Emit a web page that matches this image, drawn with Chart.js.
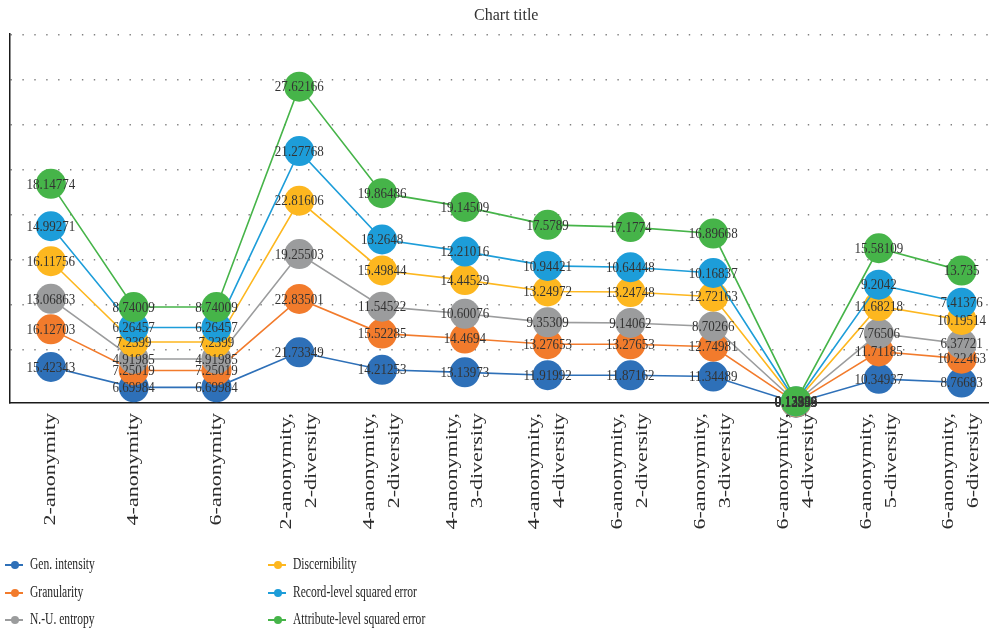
<!DOCTYPE html>
<html>
<head>
<meta charset="utf-8">
<script src="https://cdn.jsdelivr.net/npm/chart.js@4.4.1/dist/chart.umd.min.js"></script>
<style>
  html, body { margin: 0; padding: 0; background: #fff; overflow: hidden; }
  #wrap { position: relative; width: 989px; height: 633px; overflow: hidden; }
  #chart { position: absolute; left: 0; top: 0; }
  .lg-item { position: absolute; height: 20px; line-height: 20px; white-space: nowrap;
             font-family: "Liberation Serif", "Times New Roman", serif; font-size: 17px; color: #262626; }
  .lg-mark { position: absolute; left: 0; top: 10px; width: 18px; height: 2px; }
  .lg-dot { position: absolute; left: 5.5px; top: -3px; width: 8px; height: 8px; border-radius: 50%; }
  .lg-text { position: absolute; top: 0; transform: scaleX(0.68); transform-origin: 0 50%; }
</style>
</head>
<body>
<div id="wrap">
  <canvas id="chart" width="1012" height="633"></canvas>
  <div id="legend"></div>
</div>
<script>
// Configurations along the x axis (each entry is one label, split into lines)
const categories = [
  ['2-anonymity'], ['4-anonymity'], ['6-anonymity'],
  ['2-anonymity,', '2-diversity'], ['4-anonymity,', '2-diversity'],
  ['4-anonymity,', '3-diversity'], ['4-anonymity,', '4-diversity'],
  ['6-anonymity,', '2-diversity'], ['6-anonymity,', '3-diversity'],
  ['6-anonymity,', '4-diversity'], ['6-anonymity,', '5-diversity'],
  ['6-anonymity,', '6-diversity']
];

// Metric values per configuration
const genIntensity   = [15.42343, 6.69984, 6.69984, 21.73349, 14.21253, 13.13973, 11.91992, 11.87162, 11.34489, 0.13333, 10.34937, 8.76683];
const granularity    = [16.12703, 7.25019, 7.25019, 22.83501, 15.52285, 14.4694, 13.27653, 13.27653, 12.74981, 0.12963, 11.71185, 10.22463];
const nuEntropy      = [13.06863, 4.91985, 4.91985, 19.25503, 11.54522, 10.60076, 9.35309, 9.14062, 8.70266, 0.13889, 7.76506, 6.37721];
const discernibility = [16.11756, 7.2399, 7.2399, 22.81606, 15.49844, 14.44529, 13.24972, 13.24748, 12.72163, 0.13296, 11.68218, 10.19514];
const recordSqError  = [14.99271, 6.26457, 6.26457, 21.27768, 13.2648, 12.21016, 10.94421, 10.64448, 10.16837, 0.12346, 9.2042, 7.41376];
const attrSqError    = [18.14774, 8.74009, 8.74009, 27.62166, 19.86486, 19.14509, 17.5789, 17.1774, 16.89668, 0.13194, 15.58109, 13.735];

const seriesNames  = ['Gen. intensity', 'Granularity', 'N.-U. entropy', 'Discernibility', 'Record-level squared error', 'Attribute-level squared error'];
const seriesData   = [genIntensity, granularity, nuEntropy, discernibility, recordSqError, attrSqError];
const seriesColors = ['#2E70B8', '#F27B2C', '#9B9C9D', '#FDB71F', '#1D9DD9', '#46B449'];

// Value axis range and spacing of the dotted guide lines
const yMax = 158;
const yGridStep = 19.28;

const FONT = '"Liberation Serif", "Times New Roman", serif';

// Draw datasets first-to-last so the upper series sit on top
const forwardOrder = {
  id: 'forwardOrder',
  beforeDatasetsDraw(chart) {
    chart.getSortedVisibleDatasetMetas().forEach(m => chart._drawDataset(m));
    return false;
  }
};

// Value printed in the middle of every marker
const valueLabels = {
  id: 'valueLabels',
  afterDraw(chart) {
    const ctx = chart.ctx;
    ctx.save();
    ctx.font = '14px ' + FONT;
    ctx.fillStyle = '#333333';
    ctx.textAlign = 'center';
    ctx.textBaseline = 'middle';
    chart.data.datasets.forEach((ds, di) => {
      const meta = chart.getDatasetMeta(di);
      meta.data.forEach((pt, i) => {
        ctx.save();
        ctx.translate(pt.x, pt.y + 1);
        ctx.scale(0.93, 1);
        ctx.fillText(String(ds.data[i]), 0, 0);
        ctx.restore();
      });
    });
    ctx.restore();
  }
};

// Vertical category labels under the axis
const categoryLabels = {
  id: 'categoryLabels',
  afterDraw(chart) {
    const ctx = chart.ctx;
    const xs = chart.scales.x;
    const top = chart.chartArea.bottom + 10;
    const lineGap = 25;
    ctx.save();
    ctx.font = '22px ' + FONT;
    ctx.fillStyle = '#2b2b2b';
    ctx.textAlign = 'right';
    ctx.textBaseline = 'middle';
    chart.data.labels.forEach((lines, i) => {
      const cx = xs.getPixelForTick(i);
      const n = lines.length;
      lines.forEach((line, j) => {
        ctx.save();
        ctx.translate(cx + (j - (n - 1) / 2) * lineGap, top);
        ctx.rotate(-Math.PI / 2);
        ctx.scale(1, 0.74);
        ctx.fillText(line, 0, 0);
        ctx.restore();
      });
    });
    ctx.restore();
  }
};

const datasets = seriesNames.map((name, i) => ({
  label: name,
  data: seriesData[i],
  borderColor: seriesColors[i],
  backgroundColor: seriesColors[i],
  borderWidth: 1.6,
  pointRadius: 15,
  pointBackgroundColor: seriesColors[i],
  pointBorderColor: seriesColors[i],
  pointBorderWidth: 0,
  tension: 0,
  fill: false,
  clip: false
}));

new Chart(document.getElementById('chart'), {
  type: 'line',
  data: { labels: categories, datasets },
  options: {
    responsive: false,
    animation: false,
    events: [],
    layout: { autoPadding: false, padding: { left: 9.5, right: 9, top: 0, bottom: 0 } },
    plugins: {
      legend: { display: false },
      tooltip: { enabled: false },
      title: {
        display: true,
        text: 'Chart title',
        color: '#333',
        font: { family: FONT, size: 16, weight: 'normal' },
        padding: { top: 6, bottom: 9 }
      }
    },
    scales: {
      x: {
        offset: true,
        ticks: { display: false },
        grid: { display: false, drawTicks: false },
        border: { display: true, color: '#1a1a1a', width: 1.5 },
        afterFit(scale) { scale.height = 230; }
      },
      y: {
        stacked: true,
        min: 0,
        max: yMax,
        ticks: { display: false },
        grid: { color: '#808080', lineWidth: 1.4, drawTicks: false },
        border: { display: true, color: '#1a1a1a', width: 1.5, dash: [1.4, 10.5] },
        afterBuildTicks(scale) {
          const t = [];
          for (let v = yMax; v > yGridStep; v -= yGridStep) t.push({ value: v });
          scale.ticks = t;
        },
        afterFit(scale) { scale.width = 0; }
      }
    }
  },
  plugins: [forwardOrder, valueLabels, categoryLabels]
});

// Two-column legend below the chart
const legend = document.getElementById('legend');
const colLeft = [5, 268];
const rowTop = [554, 581.5, 609];
seriesNames.forEach((name, i) => {
  const col = Math.floor(i / 3), row = i % 3;
  const item = document.createElement('div');
  item.className = 'lg-item';
  item.style.left = colLeft[col] + 'px';
  item.style.top = rowTop[row] + 'px';
  const mark = document.createElement('span');
  mark.className = 'lg-mark';
  mark.style.background = seriesColors[i];
  const dot = document.createElement('span');
  dot.className = 'lg-dot';
  dot.style.background = seriesColors[i];
  mark.appendChild(dot);
  const text = document.createElement('span');
  text.className = 'lg-text';
  text.style.left = '25px';
  text.textContent = name;
  item.appendChild(mark);
  item.appendChild(text);
  legend.appendChild(item);
});
</script>
</body>
</html>
